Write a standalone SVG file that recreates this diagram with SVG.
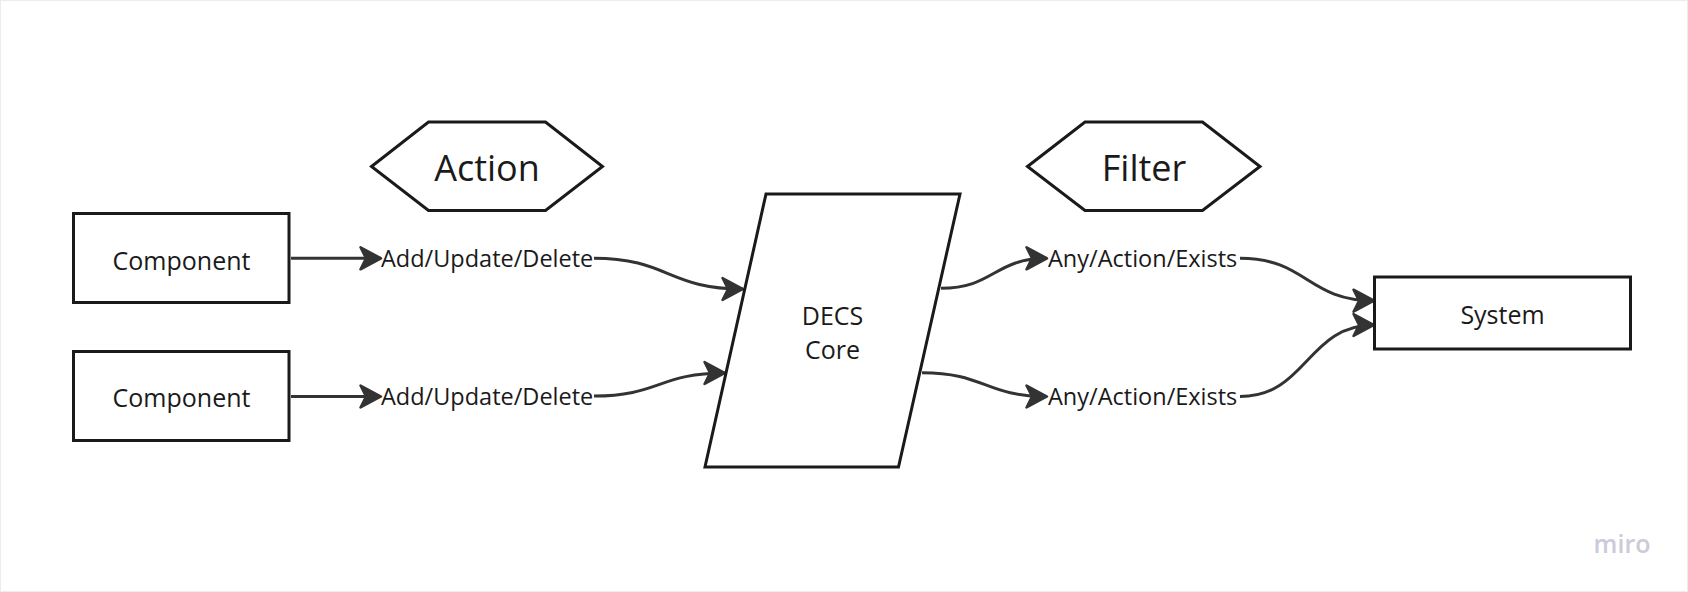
<svg xmlns="http://www.w3.org/2000/svg" width="1688" height="592" viewBox="0 0 1688 592">
  <defs>
    <marker id="arr" markerUnits="userSpaceOnUse" markerWidth="28" markerHeight="30" viewBox="-24 -15 28 30" refX="0" refY="0" orient="auto">
      <path d="M0,0 L-20.5,-11 L-15,0 L-20.5,11 Z" fill="#333" stroke="#333" stroke-width="2.5" stroke-linejoin="round"/>
    </marker>
  </defs>
  <style>
    .shape { fill: #ffffff; stroke: #1a1a1a; stroke-width: 3; stroke-linejoin: miter; }
    .conn { fill: none; stroke: #333333; stroke-width: 3; marker-end: url(#arr); }
    .nt { font-family: "Open Sans", "Noto Sans", sans-serif; font-size: 25px; fill: #1a1a1a; text-anchor: middle; }
    .ht { font-family: "Open Sans", "Noto Sans", sans-serif; font-size: 36px; fill: #1a1a1a; text-anchor: middle; }
    .lt { font-family: "Open Sans", "Noto Sans", sans-serif; font-size: 23.5px; fill: #1a1a1a; text-anchor: start; }
  </style>
  <rect x="0.5" y="0.5" width="1687" height="591" fill="#ffffff" stroke="#ececec" stroke-width="1"/>

  <g id="connectors">
    <path class="conn" d="M291,258.3 L381,258.3"/>
    <path class="conn" d="M291,396.5 L381,396.5"/>
    <path class="conn" d="M594,258.3 C668,258.3 668,289 743,289"/>
    <path class="conn" d="M594,396 C659,396 659,373 725,373"/>
    <path class="conn" d="M941,288.3 C994,288.3 994,258.3 1047,258.3"/>
    <path class="conn" d="M922,372.7 C985,372.7 985,396.5 1047,396.5"/>
    <path class="conn" d="M1240,258.3 C1307,258.3 1307,300.7 1374,300.7"/>
    <path class="conn" d="M1240,396.5 C1307,396.5 1307,325 1374,325"/>
  </g>

  <g id="component1">
    <rect class="shape" x="73.5" y="213.5" width="215.5" height="89"/>
    <text class="nt" x="181.5" y="269.5">Component</text>
  </g>
  <g id="component2">
    <rect class="shape" x="73.5" y="351.5" width="215.5" height="89"/>
    <text class="nt" x="181.5" y="406.5">Component</text>
  </g>
  <g id="action">
    <polygon class="shape" points="371.5,166.5 428.5,122 545.5,122 602.5,166.5 545.5,210.5 428.5,210.5"/>
    <text class="ht" x="487" y="181">Action</text>
  </g>
  <g id="filter">
    <polygon class="shape" points="1027.5,166.5 1085,122 1202.5,122 1260,166.5 1202.5,210.5 1085,210.5"/>
    <text class="ht" x="1144" y="181">Filter</text>
  </g>
  <g id="label-add1">
    <text class="lt" x="381" y="266.5">Add/Update/Delete</text>
  </g>
  <g id="label-add2">
    <text class="lt" x="381" y="404.5">Add/Update/Delete</text>
  </g>
  <g id="decs-core">
    <polygon class="shape" points="766,194 960,194 898.5,467 705,467"/>
    <text class="nt" x="832.5" y="324.5">DECS</text>
    <text class="nt" x="832.5" y="358.5">Core</text>
  </g>
  <g id="label-any1">
    <text class="lt" x="1048" y="266.5">Any/Action/Exists</text>
  </g>
  <g id="label-any2">
    <text class="lt" x="1048" y="404.5">Any/Action/Exists</text>
  </g>
  <g id="system">
    <rect class="shape" x="1374.5" y="277" width="256" height="72"/>
    <text class="nt" x="1502.5" y="324">System</text>
  </g>
  <text x="1622" y="553" font-family="Open Sans, Noto Sans, sans-serif" font-size="25" font-weight="600" fill="#cbcbd9" text-anchor="middle">miro</text>
</svg>
